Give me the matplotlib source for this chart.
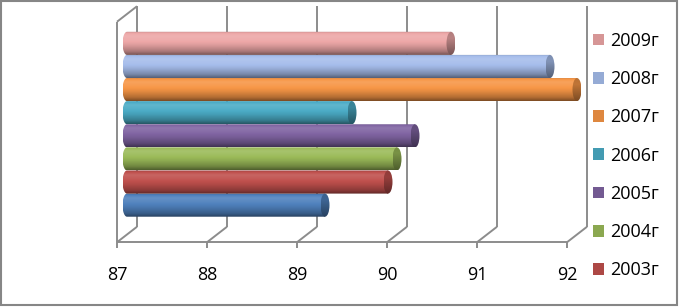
import numpy as np
import matplotlib
matplotlib.use("Agg")
import matplotlib.pyplot as plt
import matplotlib.colors as mcolors
from matplotlib.path import Path
from matplotlib.patches import PathPatch, Ellipse, Patch, Rectangle

plt.rcParams['font.family'] = ['Open Sans', 'DejaVu Sans']

# ---- data ----
years = ['2002г', '2003г', '2004г', '2005г', '2006г', '2007г', '2008г', '2009г']
values = [89.2, 89.9, 90.0, 90.2, 89.5, 92.0, 91.7, 90.6]
xticks = [87, 88, 89, 90, 91, 92]

# ---- styles ----
colors = ['#4F81BD', '#C0504D', '#9BBB59', '#8064A2', '#4BACC6', '#F79646', '#A6BDEB', '#EDA7A7']
legend_colors = ['#4775AA', '#AD4845', '#8BA850', '#735A92', '#439BB2', '#DE873F', '#95ABD5', '#D69696']
grid_c = '#8C8C8C'
lw = 1.4
FS = 13

W, H = 681, 307
fig = plt.figure(figsize=(W / 100, H / 100), dpi=100)

XMIN, XMAX = 86.8, 92.6
PXU = 90.0  # pixels per value unit
YLO, YHI = -1.27, 8.27
ax_left = 127 - (87 - XMIN) * PXU
ax_w = (XMAX - XMIN) * PXU
ax_top, ax_bot = 14.0, 234.5
ax = fig.add_axes([ax_left / W, (H - ax_bot) / H, ax_w / W, (ax_bot - ax_top) / H])
ax.set_xlim(XMIN, XMAX)
ax.set_ylim(YLO, YHI)
ax.axis('off')

pxy = (ax_bot - ax_top) / (YHI - YLO)
dx = 10 / PXU
dy = 7.75 / pxy

kw = dict(color=grid_c, lw=lw, clip_on=False, zorder=1, solid_capstyle='butt')
for v in xticks:
    ax.plot([v + dx, v + dx], [YLO + dy, YHI + dy], **kw)          # back wall gridline
    ax.plot([v - dx, v + dx], [YLO - dy, YLO + dy], **kw)          # floor diagonal
    ax.plot([v - dx, v - dx], [YLO - dy, YLO - dy - 6 / pxy], **kw)  # tick
    ax.text(v - dx, YLO - dy - 33 / pxy, str(v), ha='center', va='center',
            fontsize=FS, color='black')
ax.plot([xticks[0] - dx, xticks[-1] - dx], [YLO - dy, YLO - dy], **kw)  # front axis
ax.plot([xticks[0] - dx, xticks[0] - dx], [YLO - dy, YHI - dy], **kw)  # left wall front edge
ax.plot([xticks[0] - dx, xticks[0] + dx], [YHI - dy, YHI + dy], **kw)  # left wall top

# ---- cylinders ----
a = 4.5 / PXU
tk = [0.0, 0.06, 0.2, 0.35, 0.6, 0.85, 1.0]
mk = [0.72, 0.97, 1.12, 1.06, 0.92, 0.72, 0.5]
ck = [0.0, 0.3, 1.0]
cm = [0.75, 0.78, 0.5]


def shade(base, m):
    m = np.asarray(m)[:, None]
    light = base + (1 - base) * np.clip(m - 1, 0, 1)
    dark = base * np.clip(m, 0, 1)
    out = np.where(m > 1, light, dark)
    return np.clip(out, 0, 1)


t = np.linspace(0, 1, 96)
x0 = xticks[0]
for i, (v, c) in enumerate(zip(values, colors)):
    base = np.array(mcolors.to_rgb(c))
    body = shade(base, np.interp(t, tk, mk))
    img = np.repeat(body[:, None, :], 2, axis=1)
    th = np.linspace(np.pi / 2, 3 * np.pi / 2, 60)
    left = np.column_stack([x0 + a * np.cos(th), i + 0.5 * np.sin(th)])
    verts = np.vstack([left, [[v, i - 0.5], [v, i + 0.5], [x0, i + 0.5]]])
    path = Path(verts, closed=True)
    patch = PathPatch(path, facecolor='none', edgecolor='none')
    ax.add_patch(patch)
    im = ax.imshow(img, extent=(x0 - a, v, i - 0.5, i + 0.5), aspect='auto',
                   zorder=3, interpolation='bilinear')
    im.set_clip_path(patch)

    capc = shade(base, np.interp(t, ck, cm))
    cimg = np.repeat(capc[:, None, :], 2, axis=1)
    cap = Ellipse((v, i), 2 * a, 1.0, facecolor='none', edgecolor='none')
    ax.add_patch(cap)
    im2 = ax.imshow(cimg, extent=(v - a, v + a, i - 0.5, i + 0.5), aspect='auto',
                    zorder=4, interpolation='bilinear')
    im2.set_clip_path(cap)

ax.set_xlim(XMIN, XMAX)
ax.set_ylim(YLO, YHI)

# ---- legend (2009 .. 2003 visible) ----
order = list(range(len(years) - 1, 0, -1))
handles = [Patch(facecolor=legend_colors[k], edgecolor='none') for k in order]
labels = [years[k] for k in order]
fig.legend(handles, labels, loc='upper left', bbox_to_anchor=(593 / W, 1 - 32.0 / H),
           frameon=False, fontsize=FS, handlelength=0.62, handleheight=0.62,
           handletextpad=0.33, labelspacing=1.12, borderpad=0, borderaxespad=0)

# outer border
fig.add_artist(Rectangle((1 / W, (H - 305) / H), 676 / W, 304 / H, transform=fig.transFigure,
                         fill=False, edgecolor='#868686', lw=1.5))

fig.savefig('out.png', dpi=100)
